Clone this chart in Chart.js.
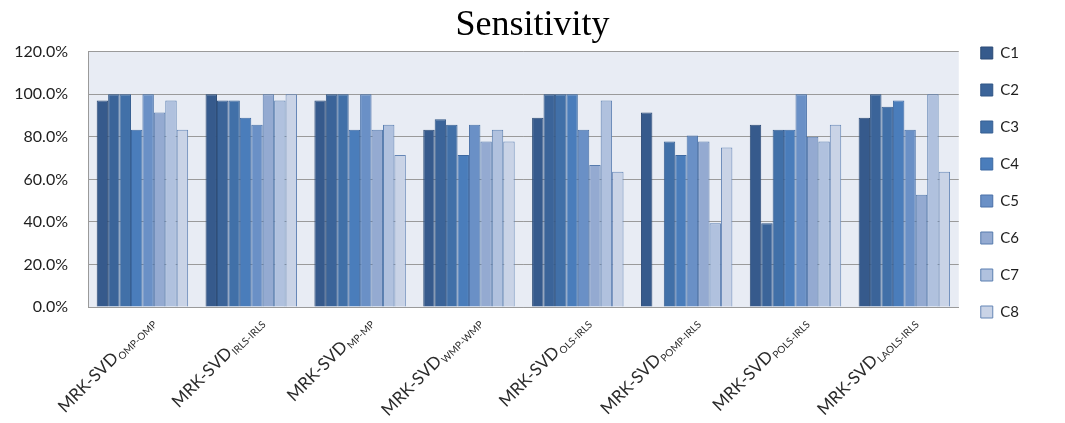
<!DOCTYPE html>
<html>
<head>
<meta charset="utf-8">
<title>Sensitivity</title>
<script src="https://cdn.jsdelivr.net/npm/chart.js@4"></script>
<style>
  html, body { margin: 0; padding: 0; background: #fff; }
  canvas { display: block; }
</style>
</head>
<body>
<canvas id="myChart" width="1065" height="423"></canvas>
<script>
// Categories (main name + subscript)
const categories = ['MRK-SVD', 'MRK-SVD', 'MRK-SVD', 'MRK-SVD', 'MRK-SVD', 'MRK-SVD', 'MRK-SVD', 'MRK-SVD'];
const subscripts = ['OMP-OMP', 'IRLS-IRLS', 'MP-MP', 'WMP-WMP', 'OLS-IRLS', 'POMP-IRLS', 'POLS-IRLS', 'LAOLS-IRLS'];

// Sensitivity (%) per class
const C1 = [97.1, 100, 97.1, 83.3, 88.9, 91.4, 85.7, 88.9];
const C2 = [100, 97.1, 100, 88.2, 100, null, 39.4, 100];
const C3 = [100, 97.1, 100, 85.7, 100, 77.8, 83.3, 94.1];
const C4 = [83.3, 88.9, 83.3, 71.4, 100, 71.4, 83.3, 97.1];
const C5 = [100, 85.7, 100, 85.7, 83.3, 80.6, 100, 83.3];
const C6 = [91.4, 100, 83.3, 77.8, 66.7, 77.8, 80.0, 52.8];
const C7 = [97.1, 97.1, 85.7, 83.3, 97.1, 39.4, 77.8, 100];
const C8 = [83.3, 100, 71.4, 77.8, 63.6, 75.0, 85.7, 63.6];

const seriesNames = ['C1', 'C2', 'C3', 'C4', 'C5', 'C6', 'C7', 'C8'];
const seriesValues = [C1, C2, C3, C4, C5, C6, C7, C8];

// y axis ticks
const yTicks = [0, 20, 40, 60, 80, 100, 120];

const fills = ['#365a8c', '#3b6499', '#4170a8', '#4a7dbb', '#6a90c6', '#94aad1', '#b0c1de', '#c9d3e6'];
const borders = ['#2c4b76', '#315686', '#375f92', '#3d69a2', '#4a71a8', '#577bad', '#5b7fb1', '#6586b6'];

// plot background
const plotBg = {
    id: 'plotBg',
    beforeDraw(chart) {
        const {ctx, chartArea: a} = chart;
        ctx.save();
        ctx.fillStyle = '#e8ecf4';
        ctx.fillRect(a.left, a.top, a.right - a.left, a.bottom - a.top);
        ctx.restore();
    }
};

// give the legend some empty room on its right, so the title stays centred on the page
const legendRoom = {
    id: 'legendRoom',
    afterInit(chart) {
        const lg = chart.legend;
        const fit = lg.fit.bind(lg);
        lg.fit = function () { fit(); this.width += 36; };
    }
};

// rotated category labels with subscripts
const xLabels = {
    id: 'xLabels',
    afterDraw(chart) {
        const ctx = chart.ctx;
        const xs = chart.scales.x;
        const y0 = chart.chartArea.bottom;
        categories.forEach((name, i) => {
            const cx = xs.getPixelForValue(i);
            ctx.save();
            ctx.translate(cx + 13, y0 + 16);
            ctx.rotate(-Math.PI / 4);
            ctx.fillStyle = '#2b2b2b';
            ctx.textAlign = 'right';
            ctx.textBaseline = 'alphabetic';
            ctx.font = '10px Lato';
            const subW = ctx.measureText(subscripts[i]).width;
            ctx.fillText(subscripts[i], 0, 3);
            ctx.font = '17px Lato';
            ctx.fillText(name, -subW - 1, 0);
            ctx.restore();
        });
    }
};

const ctx = document.getElementById('myChart').getContext('2d');
const myChart = new Chart(ctx, {
    type: 'bar',
    data: {
        labels: categories.map((c, i) => c + ' ' + subscripts[i]),
        datasets: seriesNames.map((n, i) => ({
            label: n,
            data: seriesValues[i],
            backgroundColor: fills[i],
            borderColor: borders[i],
            borderWidth: 1,
            categoryPercentage: 0.84,
            barPercentage: 1.0
        }))
    },
    options: {
        responsive: false,
        animation: false,
        layout: { padding: 0 },
        plugins: {
            tooltip: { enabled: false },
            title: {
                display: true,
                text: 'Sensitivity',
                color: '#000',
                font: { family: '"Liberation Serif", "Times New Roman", serif', size: 36, weight: 'normal' },
                padding: { top: 4, bottom: 4.5 }
            },
            legend: {
                position: 'right',
                align: 'start',
                title: { display: true, text: ' ', font: { size: 10 }, padding: { top: 5, bottom: 6.5 } },
                labels: {
                    boxWidth: 12,
                    boxHeight: 12,
                    padding: 22,
                    color: '#1e1e1e',
                    font: { family: 'Lato', size: 15 }
                }
            }
        },
        scales: {
            x: {
                grid: { display: false },
                border: { color: '#9a9a9a' },
                ticks: { display: false },
                afterFit: s => { s.height = 116; }
            },
            y: {
                min: 0,
                max: 120,
                afterBuildTicks: s => { s.ticks = yTicks.map(v => ({ value: v })); },
                grid: { color: '#9a9a9a', drawTicks: false },
                border: { color: '#9a9a9a' },
                ticks: {
                    padding: 20,
                    color: '#1e1e1e',
                    font: { family: 'Lato', size: 16 },
                    callback: v => v.toFixed(1) + '%'
                },
                afterFit: s => { s.width = 88; }
            }
        }
    },
    plugins: [plotBg, legendRoom, xLabels]
});
</script>
</body>
</html>
